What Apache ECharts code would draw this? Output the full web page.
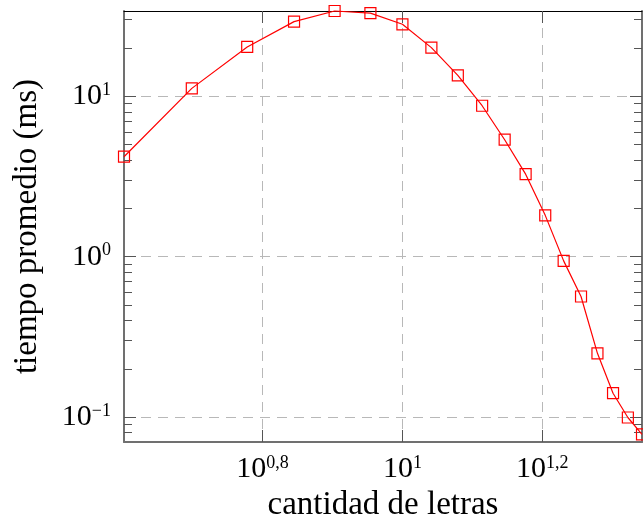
<!DOCTYPE html>
<html>
<head>
<meta charset="utf-8">
<script src="https://cdn.jsdelivr.net/npm/echarts@6/dist/echarts.min.js"></script>
<style>
html,body{margin:0;padding:0;background:#fff}
#echarts{width:643px;height:522px}
</style>
</head>
<body>
<div id="echarts"></div>
<script>
"use strict";
// datos
var letras = [4, 5, 6, 7, 8, 9, 10, 11, 12, 13, 14, 15, 16, 17, 18, 19, 20, 21, 22];
var tiempo = [4.20, 11.2, 20.3, 29.2, 34.0, 33.0, 28.1, 20.1, 13.5, 8.73, 5.36, 3.27, 1.81, 0.942, 0.565, 0.250, 0.141, 0.0995, 0.078];
var xTickExp = [0.8, 1, 1.2];
var yTickExp = [-1, 0, 1];
var yMinorTicks = [0.08, 0.09, 0.2, 0.3, 0.4, 0.5, 0.6, 0.7, 0.8, 0.9, 2, 3, 4, 5, 6, 7, 8, 9, 20, 30];

var FONT = '"Liberation Serif", "DejaVu Serif", serif';
var xTicks = xTickExp.map(function (e) { return Math.pow(10, e); });
var yTicks = yTickExp.map(function (e) { return Math.pow(10, e); });

// etiqueta 10^e con coma decimal
function potencia(v) {
    var e = Math.round(Math.log10(v) * 10) / 10;
    var s = String(e).replace('.', ',').replace('-', '\u2212');
    return '{b|10}{s|' + s + '}';
}

var richLabel = {
    b: { fontSize: 30, fontFamily: FONT, color: '#000', lineHeight: 30 },
    s: { fontSize: 18, fontFamily: FONT, color: '#000', lineHeight: 18, verticalAlign: 'top' }
};
var gridLine = { show: true, lineStyle: { color: '#b8b8b8', width: 1, type: [10, 7] } };
var sideLine = { show: true, lineStyle: { color: '#707070', width: 2 } };
var topLine = { show: true, lineStyle: { color: '#000', width: 1 } };

function ejeX(pos, conLabel) {
    return {
        type: 'log', position: pos, min: 4, max: 22,
        axisLine: conLabel ? sideLine : topLine,
        axisTick: { show: true, inside: true, length: 12, customValues: xTicks, lineStyle: { color: '#555', width: 1 } },
        axisLabel: conLabel ? { show: true, customValues: xTicks, margin: 12, formatter: potencia, rich: richLabel } : { show: false },
        splitLine: conLabel ? gridLine : { show: false },
        minorTick: { show: false }, minorSplitLine: { show: false },
        name: conLabel ? 'cantidad de letras' : '',
        nameLocation: 'middle', nameGap: 46,
        nameTextStyle: { fontSize: 33, fontFamily: FONT, color: '#000' }
    };
}

function ejeY(pos, menor, conLabel) {
    return {
        type: 'log', position: pos, min: 0.07, max: 34,
        axisLine: menor ? { show: false } : sideLine,
        axisTick: { show: true, inside: true, length: menor ? 8 : 12, customValues: menor ? yMinorTicks : yTicks, lineStyle: { color: '#555', width: 1 } },
        axisLabel: conLabel ? { show: true, customValues: yTicks, margin: 13, formatter: potencia, rich: richLabel } : { show: false },
        splitLine: conLabel ? gridLine : { show: false },
        minorTick: { show: false }, minorSplitLine: { show: false },
        name: conLabel ? 'tiempo promedio (ms)' : '',
        nameLocation: 'middle', nameGap: 80,
        nameTextStyle: { fontSize: 33, fontFamily: FONT, color: '#000' }
    };
}

var myChart = echarts.init(document.getElementById('echarts'));
var option = {
    animation: false,
    backgroundColor: '#fff',
    grid: { left: 124, right: 1, top: 11, bottom: 80, containLabel: false, outerBoundsMode: 'none' },
    xAxis: [ejeX('bottom', true), ejeX('top', false)],
    yAxis: [ejeY('left', false, true), ejeY('left', true, false), ejeY('right', false, false), ejeY('right', true, false)],
    series: [{
        type: 'line',
        xAxisIndex: 0,
        yAxisIndex: 0,
        data: letras.map(function (x, i) { return [x, tiempo[i]]; }),
        smooth: false,
        clip: false,
        symbol: 'rect',
        symbolSize: 11,
        lineStyle: { color: '#ff0000', width: 1.2 },
        itemStyle: { color: 'rgba(255,255,255,0)', borderColor: '#ff0000', borderWidth: 1.2 }
    }]
};
myChart.setOption(option, true);
</script>
</body>
</html>
